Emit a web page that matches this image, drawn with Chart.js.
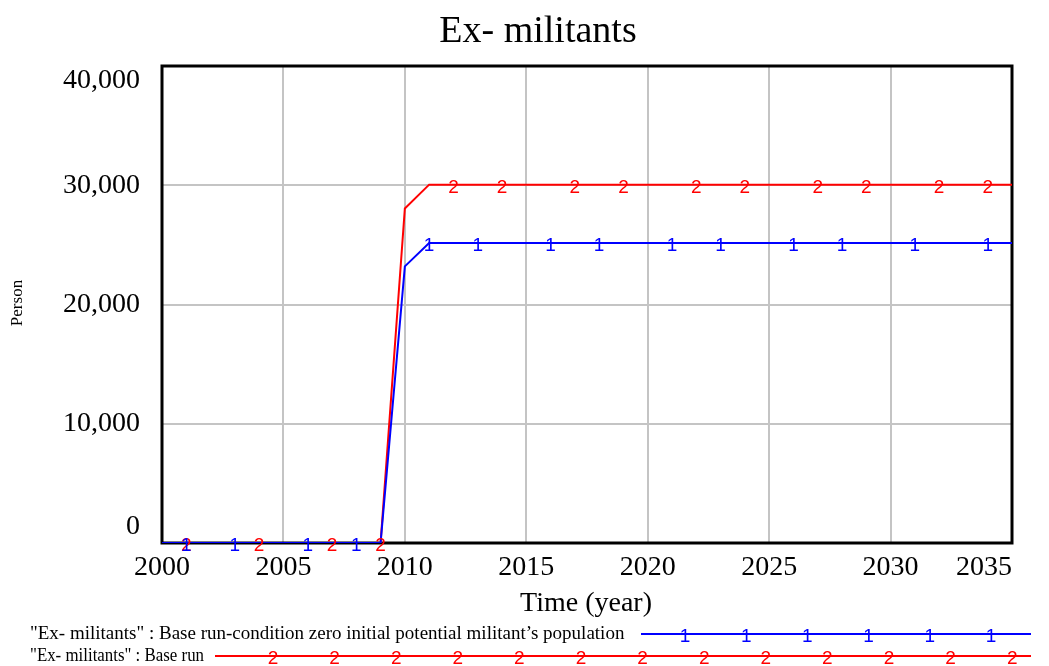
<!DOCTYPE html>
<html><head><meta charset="utf-8">
<script src="https://cdn.jsdelivr.net/npm/chart.js@4/dist/chart.umd.min.js"></script>
<style>html,body{margin:0;padding:0;background:#fff;overflow:hidden}#wrap{width:1049px;height:666px;position:relative}</style>
</head><body><div id="wrap"><canvas id="c" width="1049" height="666"></canvas></div>
<script>
const years = [2000,2001,2002,2003,2004,2005,2006,2007,2008,2009,2010,2011,2012,2013,2014,2015,2016,2017,2018,2019,2020,2021,2022,2023,2024,2025,2026,2027,2028,2029,2030,2031,2032,2033,2034,2035];
const zeroCondition = [0,0,0,0,0,0,0,0,0,0,23200,25150,25150,25150,25150,25150,25150,25150,25150,25150,25150,25150,25150,25150,25150,25150,25150,25150,25150,25150,25150,25150,25150,25150,25150,25150];
const baseRun = [0,0,0,0,0,0,0,0,0,0,28050,30050,30050,30050,30050,30050,30050,30050,30050,30050,30050,30050,30050,30050,30050,30050,30050,30050,30050,30050,30050,30050,30050,30050,30050,30050];
const markYearsZero = [2001,2003,2006,2008,2011,2013,2016,2018,2021,2023,2026,2028,2031,2034];
const markYearsBase = [2001,2004,2007,2009,2012,2014,2017,2019,2022,2024,2027,2029,2032,2034];
const xTicks = [2000,2005,2010,2015,2020,2025,2030,2035];
const yTicks = [0,10000,20000,30000,40000];
const chartTitle = 'Ex- militants';
const xTitle = 'Time (year)';
const yTitle = 'Person';
const legendLabels = ['"Ex- militants" : Base run-condition zero initial potential militant\u2019s population', '"Ex- militants" : Base run'];
const markChars = ['1','2'];
const colors = ['#0000ff','#ff0000'];

function pts(vals){ return years.map((y,i)=>({x:y,y:vals[i]})); }
function marks(ys, vals){ return ys.map(y=>({x:y,y:vals[years.indexOf(y)]})); }

const SERIF = '"Liberation Serif", "Times New Roman", serif';
const SANS = '"Liberation Sans", Arial, sans-serif';

const decor = {
  id:'decor',
  beforeDatasetsDraw(chart){
    const {ctx, chartArea:a} = chart;
    ctx.save();
    ctx.strokeStyle='#000'; ctx.lineWidth=3;
    ctx.strokeRect(a.left, a.top, a.right-a.left, a.bottom-a.top);
    ctx.restore();
  },
  afterDatasetsDraw(chart){
    const ctx = chart.ctx;
    ctx.save();
    ctx.font = '19px '+SANS; ctx.textAlign='center'; ctx.textBaseline='middle';
    [3,2].forEach(di=>{
      const meta = chart.getDatasetMeta(di);
      const s = di===2 ? 0 : 1;
      ctx.fillStyle = colors[s];
      meta.data.forEach(p=>ctx.fillText(markChars[s], p.x, p.y+3));
    });
    ctx.restore();
  },
  afterDraw(chart){
    const ctx = chart.ctx, a = chart.chartArea;
    const xs = chart.scales.x, ys = chart.scales.y;
    ctx.save();
    ctx.fillStyle='#000';
    // title
    ctx.font = '38px '+SERIF; ctx.textAlign='center'; ctx.textBaseline='middle';
    ctx.fillText(chartTitle, 538, 32);
    // y tick labels
    ctx.font = '28px '+SERIF; ctx.textAlign='right'; ctx.textBaseline='middle';
    yTicks.forEach((v,i)=>{
      let py = ys.getPixelForValue(v);
      if(i===0) py -= 16;
      if(i===yTicks.length-1) py += 15;
      ctx.fillText(v.toLocaleString('en-US'), 140, py);
    });
    // x tick labels
    xTicks.forEach((v,i)=>{
      const px = xs.getPixelForValue(v);
      if(i===xTicks.length-1){ ctx.textAlign='right'; ctx.fillText(String(v), a.right, 568); }
      else { ctx.textAlign='center'; ctx.fillText(String(v), px, 568); }
    });
    // axis titles
    ctx.textAlign='center';
    ctx.fillText(xTitle, 586, 604);
    ctx.save();
    ctx.translate(18, 303); ctx.rotate(-Math.PI/2);
    ctx.font = '17px '+SERIF;
    ctx.fillText(yTitle, 0, 0);
    ctx.restore();
    // legend
    ctx.font = '19px '+SERIF; ctx.textAlign='left'; ctx.textBaseline='middle';
    const rows = [{y:634, x0:641, x1:1031, m0:685, step:61.2, n:6, w:598},{y:656, x0:215, x1:1031, m0:273, step:61.6, n:13, w:174}];
    rows.forEach((r,i)=>{
      ctx.fillStyle='#000';
      ctx.fillText(legendLabels[i], 30, r.y, r.w);
      ctx.strokeStyle=colors[i]; ctx.lineWidth=2;
      ctx.beginPath(); ctx.moveTo(r.x0, r.y); ctx.lineTo(r.x1, r.y); ctx.stroke();
      ctx.fillStyle=colors[i];
      ctx.save(); ctx.font='19px '+SANS; ctx.textAlign='center';
      for(let k=0;k<r.n;k++) ctx.fillText(markChars[i], r.m0+k*r.step, r.y+3);
      ctx.restore();
    });
    ctx.restore();
  }
};

new Chart(document.getElementById('c'), {
  type:'line',
  data:{ datasets:[
    {label:legendLabels[0], data:pts(zeroCondition), borderColor:colors[0], borderWidth:2, pointRadius:0, tension:0},
    {label:legendLabels[1], data:pts(baseRun), borderColor:colors[1], borderWidth:2, pointRadius:0, tension:0},
    {label:'m1', data:marks(markYearsZero, zeroCondition), showLine:false, pointRadius:0},
    {label:'m2', data:marks(markYearsBase, baseRun), showLine:false, pointRadius:0}
  ]},
  options:{
    responsive:false, devicePixelRatio:1, animation:false,
    layout:{padding:{top:66,right:37,left:0,bottom:0}},
    plugins:{legend:{display:false}, tooltip:{enabled:false}, title:{display:false}},
    scales:{
      x:{type:'linear', min:2000, max:2035, ticks:{display:false, stepSize:5}, grid:{color:'#c4c4c4', lineWidth:2, drawTicks:false}, border:{display:false}, afterFit(s){s.height=123;}},
      y:{type:'linear', min:0, max:40000, ticks:{display:false, stepSize:10000}, grid:{color:'#c4c4c4', lineWidth:2, drawTicks:false}, border:{display:false}, afterFit(s){s.width=162;}}
    }
  },
  plugins:[decor]
});
</script></body></html>
